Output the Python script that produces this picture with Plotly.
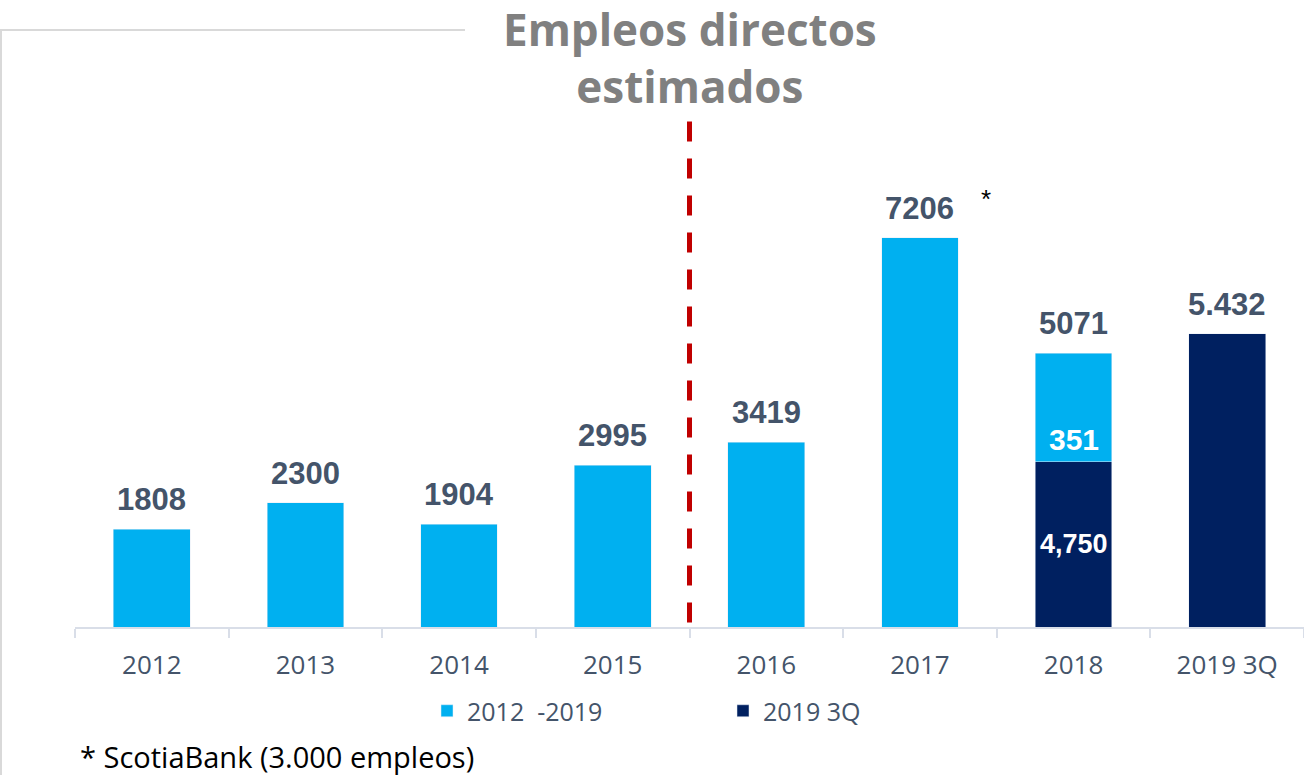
import plotly.graph_objects as go

W, H = 1304, 775
L, R, T, B = 75, 0, 100, 148

categories = ["2012", "2013", "2014", "2015", "2016", "2017", "2018", "2019 3Q"]
light_vals = [1808, 2300, 1904, 2995, 3419, 7206, 2013, None]   # visible light-blue heights
dark_vals = [None, None, None, None, None, None, 3058, 5432]     # visible dark-blue heights
top_labels = ["1808", "2300", "1904", "2995", "3419", "7206", "5071", "5.432"]
inner_labels_2018 = ["351", "4,750"]
legend_names = ["2012 \u00a0-2019", "2019 3Q"]
title_text = "Empleos directos<br>estimados"
footnote = "* ScotiaBank (3.000 empleos)"

LIGHT = "#00B0F0"
DARK = "#002060"
LABEL = "#44546A"
YMAX = 9756


def px_x(p):
    return (p - L) / (W - L - R)


def px_y(p):
    return ((H - B) - p) / (H - T - B)


fig = go.Figure()
fig.add_trace(go.Bar(x=categories, y=dark_vals, name=legend_names[1], marker_color=DARK,
                     width=0.5, legendrank=2))
fig.add_trace(go.Bar(x=categories, y=light_vals, name=legend_names[0], marker_color=LIGHT,
                     width=0.5, legendrank=1))

BOLD = dict(family="Liberation Sans, Arial", weight="bold")
ann = []
for i, c in enumerate(categories):
    tot = (light_vals[i] or 0) + (dark_vals[i] or 0)
    ann.append(dict(x=i, y=tot, text=top_labels[i], showarrow=False, yanchor="bottom", yshift=10,
                    font=dict(size=31, color=LABEL, **BOLD)))

# inner labels in 2018 stacked bar
i18 = categories.index("2018")
d18 = dark_vals[i18]
ann.append(dict(x=i18, y=d18, text=inner_labels_2018[0], showarrow=False, yanchor="bottom", yshift=4,
                font=dict(size=30, color="white", **BOLD)))
ann.append(dict(x=i18, y=d18 / 2, text=inner_labels_2018[1], showarrow=False, yanchor="middle",
                font=dict(size=27, color="white", **BOLD)))
# asterisk next to 2017
i17 = categories.index("2017")
ann.append(dict(x=i17, y=light_vals[i17], text="*", showarrow=False, yanchor="bottom", xshift=66, yshift=22,
                font=dict(family="Liberation Sans, Arial", size=26, color="black")))
# title
ann.append(dict(xref="paper", yref="paper", x=px_x(690), y=px_y(-2), text=title_text, showarrow=False,
                xanchor="center", yanchor="top", borderpad=0,
                font=dict(family="Open Sans", size=44, color="#808080", weight="bold")))
# footnote
ann.append(dict(xref="paper", yref="paper", x=px_x(78), y=px_y(756),
                text=footnote, showarrow=False, xanchor="left", yanchor="middle",
                font=dict(family="Open Sans", size=29, color="black")))

shapes = [
    dict(type="line", xref="x", yref="y", x0=3.5, x1=3.5, y0=9358, y1=-933,
         line=dict(color="#C00000", width=5, dash="20px,17px")),
    dict(type="line", xref="paper", yref="paper", x0=px_x(0), x1=px_x(465), y0=px_y(30), y1=px_y(30),
         line=dict(color="#D9D9D9", width=2)),
    dict(type="line", xref="paper", yref="paper", x0=px_x(1), x1=px_x(1), y0=px_y(30), y1=px_y(775),
         line=dict(color="#D9D9D9", width=2)),
]

fig.update_layout(
    width=W, height=H,
    margin=dict(l=L, r=R, t=T, b=B),
    paper_bgcolor="white", plot_bgcolor="white",
    barmode="stack",
    xaxis=dict(type="category", showline=True, linecolor="#D9DEE8", linewidth=2,
               ticks="outside", tickson="boundaries", ticklen=9, tickcolor="#D9DEE8", tickwidth=2,
               ticklabelstandoff=14,
               tickfont=dict(family="Open Sans", size=26, color=LABEL), showgrid=False,
               range=[-0.5, 7.5]),
    yaxis=dict(range=[0, YMAX], visible=False, showgrid=False),
    legend=dict(orientation="h", xref="container", yref="container", x=427 / W, y=1 - 688 / H,
                xanchor="left", yanchor="top", entrywidth=251, entrywidthmode="pixels",
                font=dict(family="Open Sans", size=25, color=LABEL), traceorder="normal"),
    annotations=ann,
    shapes=shapes,
    showlegend=True,
)

fig.write_html("out.html", config={"displayModeBar": False},
               post_script="document.body.style.margin='0px';")
